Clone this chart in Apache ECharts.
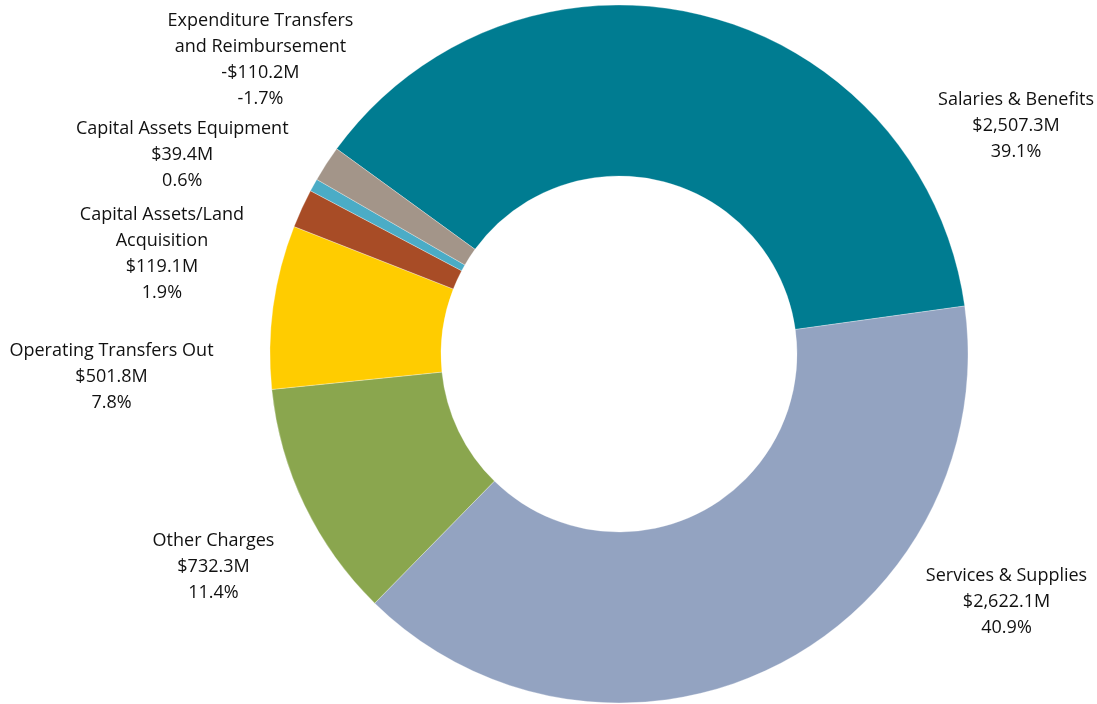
<!DOCTYPE html>
<html>
<head>
<meta charset="utf-8">
<title>Expenditures by Category</title>
<script src="https://cdn.jsdelivr.net/npm/echarts@6/dist/echarts.min.js"></script>
<style>
  html, body { margin: 0; padding: 0; background: #ffffff; }
  #chart { width: 1097px; height: 704px; }
</style>
</head>
<body>
<div id="chart"></div>
<script>
// Expenditure categories, clockwise from the top-left
const categories = [
  'Salaries & Benefits',
  'Services & Supplies',
  'Other Charges',
  'Operating Transfers Out',
  'Capital Assets/Land\nAcquisition',
  'Capital Assets Equipment',
  'Expenditure Transfers\nand Reimbursement'
];

// Amounts in millions of dollars
const amounts = [2507.3, 2622.1, 732.3, 501.8, 119.1, 39.4, -110.2];

const colors = ['#007C91', '#93A3C1', '#8AA64E', '#FFCC00', '#A84C26', '#4BACC6', '#A39589'];

// Geometry of the doughnut (pixels)
const cx = 619, cy = 354, outerR = 349, innerR = 178;

// Where each label block sits: compass angle (deg, clockwise from 12 o'clock) and distance from centre
const labelSpots = [
  { angle: 60.1, dist: 458 },
  { angle: 122.6, dist: 460 },
  { angle: 242.3, dist: 458 },
  { angle: 267.4, dist: 508 },
  { angle: 282.4, dist: 468 },
  { angle: 294.5, dist: 480 },
  { angle: 309.4, dist: 464 }
];

const netTotal = amounts.reduce((s, v) => s + v, 0);

function money(v) {
  const s = Math.abs(v).toLocaleString('en-US', { minimumFractionDigits: 1, maximumFractionDigits: 1 });
  return (v < 0 ? '-$' : '$') + s + 'M';
}

const chart = echarts.init(document.getElementById('chart'), null, { renderer: 'canvas' });

chart.setOption({
  animation: false,
  backgroundColor: '#ffffff',
  series: [{
    type: 'pie',
    center: [cx, cy],
    radius: [innerR, outerR],
    startAngle: 144,
    clockwise: true,
    avoidLabelOverlap: false,
    itemStyle: { borderColor: '#ffffff', borderWidth: 0.3 },
    label: {
      show: true,
      position: 'outside',
      fontFamily: '"Open Sans", "Noto Sans", sans-serif',
      fontSize: 18,
      lineHeight: 26,
      color: '#111111',
      formatter: function (p) {
        const amt = amounts[p.dataIndex];
        const pct = (amt / netTotal * 100).toFixed(1) + '%';
        return categories[p.dataIndex] + '\n' + money(amt) + '\n' + pct;
      }
    },
    labelLine: { show: false },
    labelLayout: function (params) {
      const spot = labelSpots[params.dataIndex];
      const th = spot.angle * Math.PI / 180;
      return {
        x: cx + spot.dist * Math.sin(th),
        y: cy - spot.dist * Math.cos(th),
        align: 'center',
        verticalAlign: 'middle'
      };
    },
    emphasis: { disabled: true },
    data: categories.map((name, i) => ({
      name: name,
      value: Math.abs(amounts[i]),
      itemStyle: { color: colors[i] }
    }))
  }]
});
</script>
</body>
</html>
